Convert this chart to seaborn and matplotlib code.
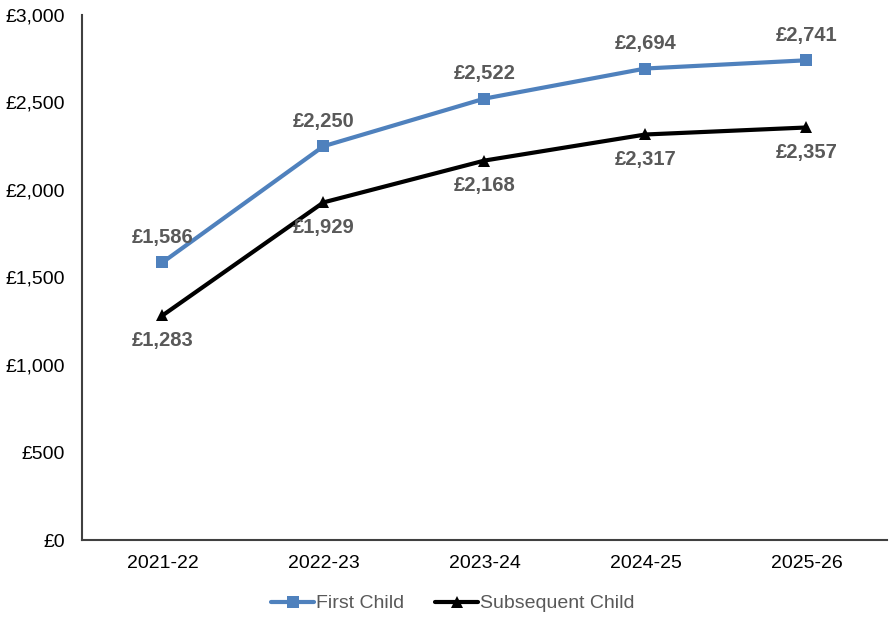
import pandas as pd
import matplotlib.pyplot as plt
import seaborn as sns

# data
years = ["2021-22", "2022-23", "2023-24", "2024-25", "2025-26"]
first_child = [1586, 2250, 2522, 2694, 2741]
subsequent_child = [1283, 1929, 2168, 2317, 2357]

df = pd.DataFrame({
    "year": years * 2,
    "value": first_child + subsequent_child,
    "series": ["First Child"] * 5 + ["Subsequent Child"] * 5,
})

sns.set_style("white")
plt.rcParams['font.family'] = ['Liberation Sans', 'DejaVu Sans']

fig = plt.figure(figsize=(8.95, 6.23), dpi=100)
ax = fig.add_axes([0.0916, 0.1332, 0.8994, 0.8428])

palette = {"First Child": "#4F81BD", "Subsequent Child": "#000000"}
markers = {"First Child": "s", "Subsequent Child": "^"}
sns.lineplot(data=df, x="year", y="value", hue="series", style="series",
             palette=palette, markers=markers, dashes=False, linewidth=3,
             markersize=8, markeredgewidth=0, sort=False, ax=ax)

# data labels
for i, v in enumerate(first_child):
    ax.annotate(f"£{v:,}", (i, v), xytext=(0, 18), textcoords="offset points",
                ha="center", va="center", fontsize=14.5, fontweight="bold", color="#595959")
for i, v in enumerate(subsequent_child):
    ax.annotate(f"£{v:,}", (i, v), xytext=(0, -18), textcoords="offset points",
                ha="center", va="center", fontsize=14.5, fontweight="bold", color="#595959")

ax.set_xlim(-0.5, 4.5)
ax.set_ylim(0, 3000)
ax.set_yticks(range(0, 3001, 500))
ax.set_yticklabels([f"£{t:,}" for t in range(0, 3001, 500)])
ax.tick_params(axis="both", labelsize=14, length=0, colors="black")
ax.tick_params(axis="x", pad=11)
ax.tick_params(axis="y", pad=12)
ax.set_xlabel("")
ax.set_ylabel("")

for s in ["top", "right"]:
    ax.spines[s].set_visible(False)
for s in ["left", "bottom"]:
    ax.spines[s].set_color("#404040")
    ax.spines[s].set_linewidth(1.5)

ax.get_legend().remove()
fig.legend(*ax.get_legend_handles_labels(), loc="center", bbox_to_anchor=(0.506, 0.031),
           ncol=2, frameon=False, fontsize=14, labelcolor="#595959",
           handlelength=2.2, handletextpad=0.1, columnspacing=1.6)

fig.savefig("out.png", dpi=100)
